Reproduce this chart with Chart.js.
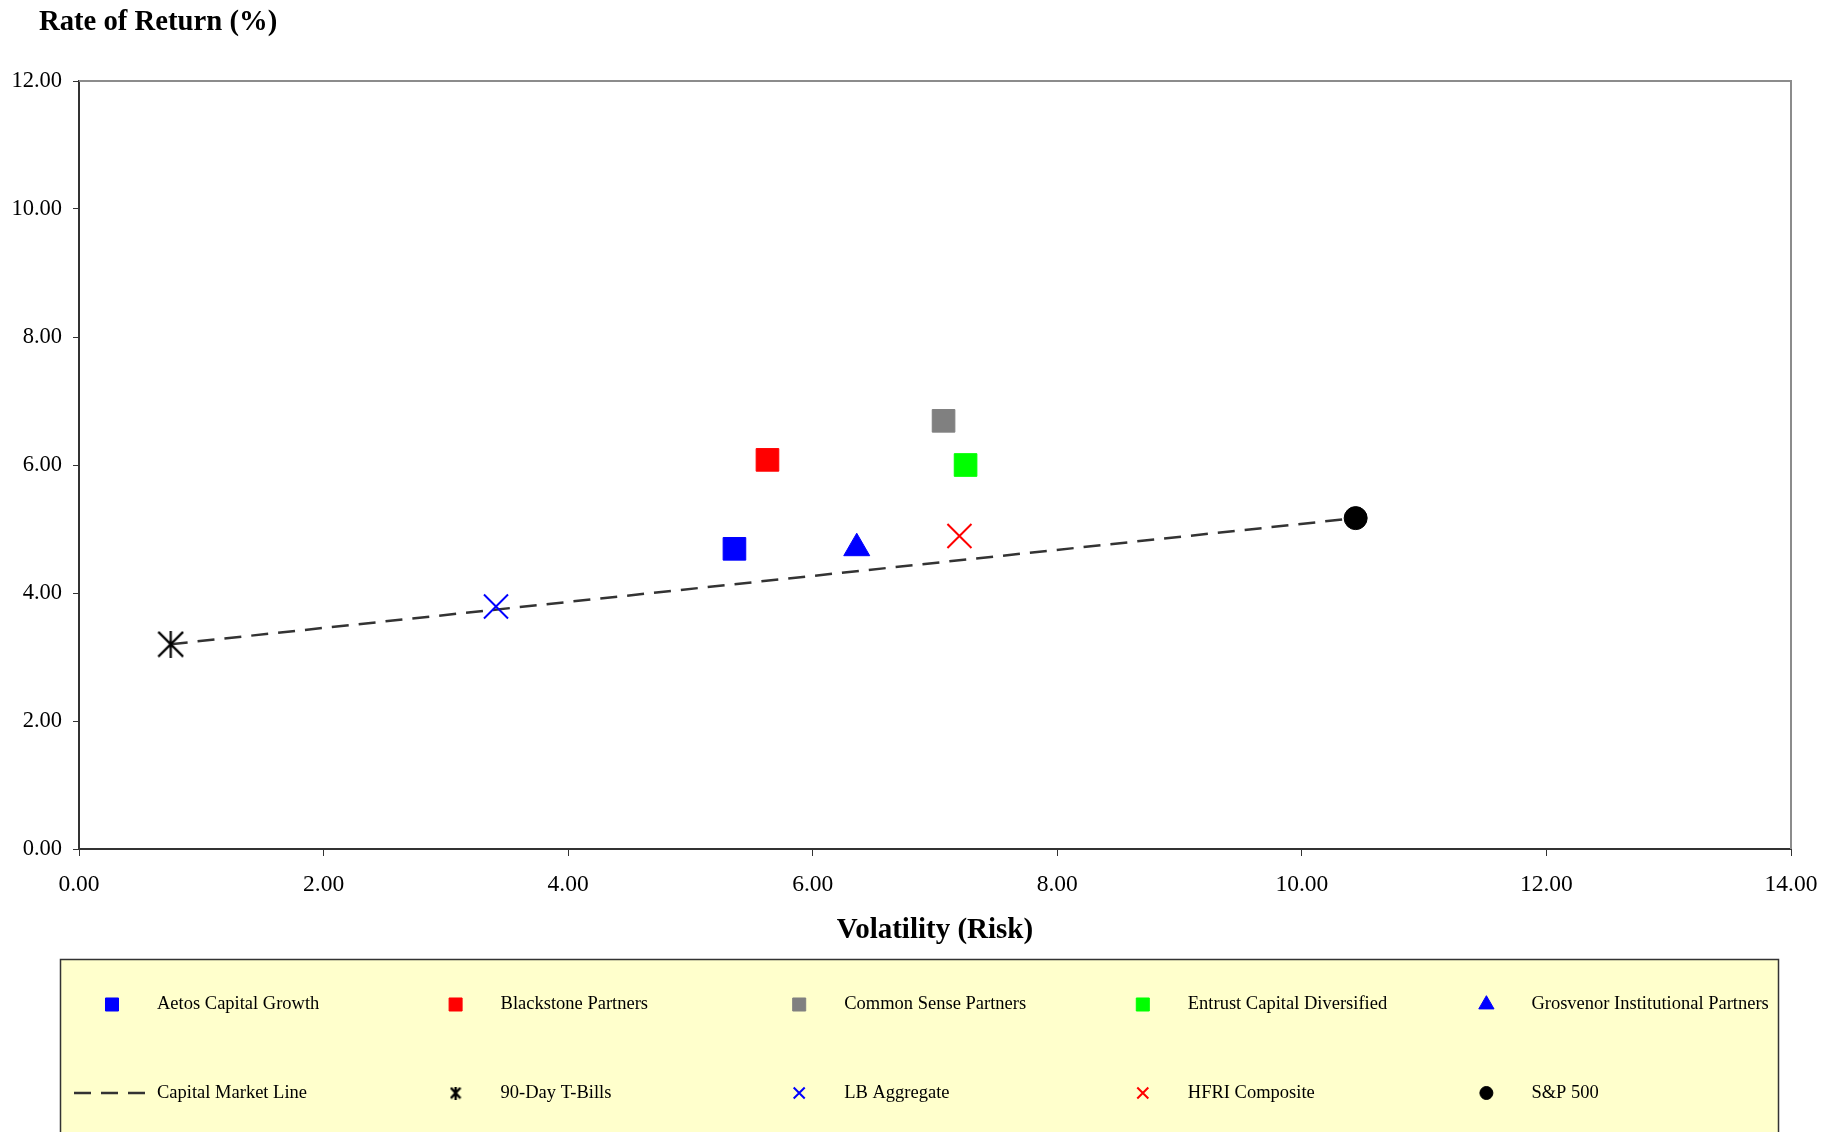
<!DOCTYPE html>
<html><head><meta charset="utf-8">
<script src="https://cdn.jsdelivr.net/npm/chart.js@4/dist/chart.umd.min.js"></script>
<style>html,body{margin:0;padding:0;background:#fff;}#wrap{width:1837px;height:1132px;position:relative;}</style>
</head><body><div id="wrap"><canvas id="c" width="1837" height="1132"></canvas></div>
<script>
// ---- data ----
const fundNames = ['Aetos Capital Growth','Blackstone Partners','Common Sense Partners','Entrust Capital Diversified','Grosvenor Institutional Partners'];
const fundVolatility = [5.36, 5.63, 7.07, 7.25, 6.36];
const fundReturn = [4.69, 6.08, 6.69, 6.00, 4.70];
const cmlName = 'Capital Market Line';
const cmlVolatility = [0.75, 10.44];
const cmlReturn = [3.20, 5.17];
const benchNames = ['90-Day T-Bills','LB Aggregate','HFRI Composite','S&P 500'];
const benchVolatility = [0.75, 3.41, 7.20, 10.44];
const benchReturn = [3.20, 3.79, 4.89, 5.17];
const xTickValues = [0, 2, 4, 6, 8, 10, 12, 14];
const yTickValues = [0, 2, 4, 6, 8, 10, 12];
const xTitle = 'Volatility (Risk)';
const yTitle = 'Rate of Return (%)';

// ---- styles ----
const FONT = '"Liberation Serif", "Times New Roman", serif';
function makeStar(w, h, lw) {
  const c = document.createElement('canvas'); c.width = w; c.height = h;
  const g = c.getContext('2d'); g.strokeStyle = '#000'; g.lineWidth = lw;
  const p = lw / 2; g.beginPath();
  g.moveTo(p, p); g.lineTo(w - p, h - p);
  g.moveTo(w - p, p); g.lineTo(p, h - p);
  g.moveTo(w / 2, 0); g.lineTo(w / 2, h);
  g.stroke(); return c;
}
const starPlot = makeStar(27, 27, 2.2);
const starLegend = makeStar(12, 13, 2.4);
const fundColors = ['#0000FF', '#FF0000', '#808080', '#00FF00', '#0000FF'];
const fundStyles = ['rect', 'rect', 'rect', 'rect', 'triangle'];
const fundRadius = [16, 16, 16, 16, 15];
const fundLegendRadius = [9.2, 9.2, 9.2, 9.2, 8.8];
const benchColors = ['#000000', '#0000FF', '#FF0000', '#000000'];
const benchStyles = [starPlot, 'crossRot', 'crossRot', 'circle'];
const benchLegendStyles = [starLegend, 'crossRot', 'crossRot', 'circle'];
const benchRadius = [13, 17, 17, 11.5];
const benchLegendRadius = [6, 7.8, 7.8, 6.5];
const benchBorder = [2, 2, 2, 1];

const datasets = [];
fundNames.forEach((n, i) => datasets.push({
  label: n, data: [{x: fundVolatility[i], y: fundReturn[i]}],
  pointStyle: fundStyles[i], pointRadius: fundRadius[i], legendRadius: fundLegendRadius[i],
  pointBackgroundColor: fundColors[i], pointBorderColor: fundColors[i], pointBorderWidth: 1, order: 0
}));
datasets.push({
  label: cmlName, data: cmlVolatility.map((v, i) => ({x: v, y: cmlReturn[i]})),
  showLine: true, borderColor: '#333333', borderWidth: 2.5, borderDash: [17, 10], pointRadius: 0, order: 5
});
benchNames.forEach((n, i) => datasets.push({
  label: n, data: [{x: benchVolatility[i], y: benchReturn[i]}],
  pointStyle: benchStyles[i], legendStyle: benchLegendStyles[i], pointRadius: benchRadius[i], legendRadius: benchLegendRadius[i],
  pointBackgroundColor: benchColors[i], pointBorderColor: benchColors[i], pointBorderWidth: benchBorder[i], order: 0
}));

const frameAndLegend = {
  id: 'frameAndLegend',
  beforeDatasetsDraw(chart) {
    const {ctx, chartArea: a} = chart;
    ctx.save(); ctx.strokeStyle = '#8c8c8c'; ctx.lineWidth = 2;
    ctx.beginPath(); ctx.moveTo(a.left, a.top); ctx.lineTo(a.right, a.top); ctx.lineTo(a.right, a.bottom); ctx.stroke();
    ctx.restore();
  },
  afterDraw(chart) {
    const ctx = chart.ctx;
    ctx.save();
    // y-axis title (horizontal, top-left)
    ctx.fillStyle = '#000'; ctx.font = 'bold 28.7px ' + FONT; ctx.textBaseline = 'middle'; ctx.textAlign = 'left';
    ctx.fillText(yTitle, 39, 23);
    // legend box
    ctx.fillStyle = '#FFFFCC'; ctx.fillRect(60, 959, 1718, 200);
    ctx.strokeStyle = '#333'; ctx.lineWidth = 1.5; ctx.strokeRect(60.5, 959.5, 1718, 200);
    chart.data.datasets.forEach((ds, i) => {
      const col = i % 5, row = Math.floor(i / 5);
      const mx = 112 + col * 343.6, my = row === 0 ? 1004.5 : 1093;
      ctx.save();
      if (ds.showLine) {
        ctx.strokeStyle = ds.borderColor; ctx.lineWidth = ds.borderWidth; ctx.setLineDash(ds.borderDash);
        ctx.beginPath(); ctx.moveTo(mx - 38, my); ctx.lineTo(mx + 34, my); ctx.stroke();
      } else {
        ctx.fillStyle = ds.pointBackgroundColor; ctx.strokeStyle = ds.pointBorderColor; ctx.lineWidth = ds.pointBorderWidth;
        Chart.helpers.drawPoint(ctx, {pointStyle: ds.legendStyle || ds.pointStyle, radius: ds.legendRadius, rotation: 0, borderWidth: ds.pointBorderWidth}, mx, my);
      }
      ctx.restore();
      ctx.fillStyle = '#000'; ctx.font = '18.5px ' + FONT; ctx.textBaseline = 'middle'; ctx.textAlign = 'left';
      ctx.fillText(ds.label, mx + 45, my);
    });
    ctx.restore();
  }
};

new Chart(document.getElementById('c'), {
  type: 'scatter',
  data: {datasets},
  options: {
    responsive: false, animation: false, events: [],
    layout: {padding: {left: 0, right: 46, top: 81, bottom: 0}},
    plugins: {legend: {display: false}, tooltip: {enabled: false}, title: {display: false}},
    scales: {
      x: {
        type: 'linear', min: 0, max: 14,
        afterBuildTicks: s => { s.ticks = xTickValues.map(v => ({value: v})); },
        afterFit: s => { s.height = 283; },
        ticks: {color: '#000', font: {family: FONT, size: 23.5}, padding: 15, callback: v => v.toFixed(2), maxRotation: 0},
        grid: {drawOnChartArea: false, drawTicks: true, tickLength: 7, color: '#333', lineWidth: 1},
        border: {color: '#333', width: 2},
        title: {display: true, text: xTitle, color: '#000', font: {family: FONT, size: 29, weight: 'bold'}, padding: {top: 0, bottom: 184}}
      },
      y: {
        type: 'linear', min: 0, max: 12,
        afterBuildTicks: s => { s.ticks = yTickValues.map(v => ({value: v})); },
        afterFit: s => { s.width = 79; },
        ticks: {color: '#000', font: {family: FONT, size: 22.5}, padding: 11, callback: v => v.toFixed(2)},
        grid: {drawOnChartArea: false, drawTicks: true, tickLength: 6, color: '#333', lineWidth: 1},
        border: {color: '#333', width: 2}
      }
    }
  },
  plugins: [frameAndLegend]
});
</script></body></html>
